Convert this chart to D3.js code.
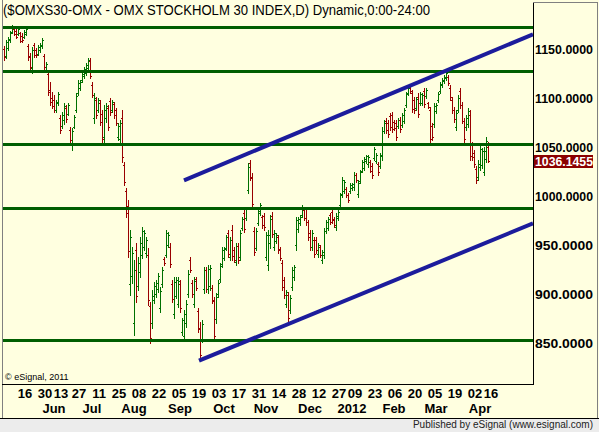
<!DOCTYPE html>
<html>
<head>
<meta charset="utf-8">
<script src="https://cdn.jsdelivr.net/npm/d3@7"></script>
<style>
  html, body { margin: 0; padding: 0; background: #fff; }
  svg { display: block; }
  text { font-family: "Liberation Sans", Arial, sans-serif; }
</style>
</head>
<body>
<div id="chart"></div>
<script>
// daily OHLC, OMXS30, 2 May 2011 .. 13 Apr 2012
const opens = [
  1150,1143,1151,1159,1167,1170,1168,1165,1166,1163,
  1162,1165,1153,1143,1131,1154,1149,1145,1149,1153,
  1143,1129,1124,1108,1100,1098,1088,1095,1080,1071,
  1078,1090,1084,1067,1052,1070,1088,1105,1110,1118,
  1122,1126,1131,1138,1113,1080,1098,1088,1095,1084,
  1060,1080,1090,1097,1088,1094,1088,1060,1058,1080,
  1032,1005,990,910,918,870,945,908,922,940,
  948,942,940,888,870,894,900,905,886,910,
  936,940,950,948,910,880,898,890,910,861,
  857,870,900,935,911,890,915,883,865,854,
  905,925,905,908,906,893,874,900,915,931,
  937,947,962,938,965,945,933,949,938,967,
  983,978,1006,1034,1018,964,947,972,983,979,
  980,938,930,952,980,948,954,958,946,932,
  914,890,899,884,907,917,950,966,972,981,
  986,987,973,962,948,955,955,941,948,935,
  940,964,967,981,984,977,968,978,991,1002,
  1005,1007,1001,1005,1008,1009,1021,1002,1015,1026,
  1029,1036,1033,1035,1031,1039,1036,1033,1031,1041,
  1066,1077,1075,1082,1083,1076,1075,1071,1078,1072,
  1077,1093,1105,1112,1105,1098,1090,1101,1095,1095,
  1107,1102,1095,1088,1071,1073,1087,1098,1107,1113,
  1117,1120,1121,1110,1098,1088,1070,1088,1107,1093,
  1077,1070,1073,1083,1052,1044,1028,1019,1030,1032,
  1025,1038,1050
];
const highs = [
  1153,1159,1162,1168,1174,1171,1171,1171,1167,1166,
  1169,1171,1155,1146,1152,1156,1151,1154,1156,1161,
  1145,1137,1127,1116,1106,1103,1098,1106,1083,1086,
  1095,1093,1095,1070,1069,1083,1105,1118,1118,1127,
  1132,1136,1141,1141,1116,1105,1101,1100,1098,1088,
  1093,1095,1093,1100,1098,1096,1090,1074,1078,1088,
  1035,1008,996,965,948,935,952,938,958,968,
  965,958,947,892,904,912,914,921,907,928,
  938,965,963,952,914,917,917,917,914,876,
  884,894,924,938,914,917,917,886,871,873,
  928,928,930,930,909,897,901,914,932,948,
  948,960,965,958,970,948,952,952,965,979,
  986,989,1034,1037,1023,968,967,988,993,981,
  983,963,965,981,984,965,962,960,948,935,
  917,904,902,899,928,930,979,979,981,991,
  988,989,976,965,965,958,958,952,950,945,
  967,975,979,983,986,979,983,986,1003,1019,
  1016,1009,1003,1013,1013,1024,1023,1016,1027,1037,
  1040,1042,1042,1037,1034,1050,1044,1035,1044,1070,
  1078,1080,1078,1085,1086,1078,1078,1080,1081,1085,
  1090,1106,1111,1114,1108,1101,1101,1105,1106,1105,
  1110,1110,1096,1091,1074,1095,1095,1106,1116,1120,
  1123,1129,1123,1113,1101,1091,1088,1103,1110,1096,
  1080,1083,1090,1088,1055,1047,1031,1037,1052,1049,
  1050,1060,1055
];
const lows = [
  1139,1141,1149,1157,1166,1164,1161,1164,1157,1157,
  1161,1164,1139,1129,1126,1142,1142,1144,1147,1151,
  1129,1127,1103,1093,1090,1086,1086,1093,1064,1069,
  1073,1076,1083,1054,1047,1069,1086,1103,1108,1116,
  1120,1123,1129,1120,1101,1074,1080,1086,1072,1052,
  1052,1076,1067,1083,1086,1080,1072,1057,1054,1035,
  1011,979,938,899,911,858,892,904,917,937,
  945,938,889,850,865,891,897,902,882,907,
  930,938,948,928,892,876,896,887,882,858,
  853,866,897,922,897,887,904,861,832,851,
  901,902,901,904,891,853,870,897,912,928,
  935,945,938,935,935,933,930,932,935,965,
  963,976,1003,1016,989,940,945,970,981,967,
  965,935,924,947,958,945,952,942,935,904,
  896,887,871,881,904,914,945,963,970,979,
  976,970,955,945,945,938,942,938,938,932,
  937,962,965,971,972,968,965,976,989,999,
  1003,999,994,1003,1006,1006,1014,999,1013,1024,
  1027,1034,1030,1024,1018,1037,1034,1021,1029,1037,
  1064,1064,1060,1067,1065,1067,1057,1069,1065,1070,
  1074,1091,1103,1105,1086,1085,1088,1081,1093,1093,
  1091,1100,1090,1054,1057,1070,1085,1096,1105,1111,
  1115,1118,1113,1098,1085,1076,1067,1086,1090,1074,
  1055,1067,1070,1037,1037,1030,1013,1016,1027,1029,
  1021,1035,1035
];
const closes = [
  1142,1157,1160,1166,1172,1165,1162,1170,1158,1159,
  1167,1170,1142,1132,1149,1144,1144,1152,1154,1159,
  1132,1135,1106,1096,1092,1088,1096,1104,1067,1083,
  1092,1079,1093,1057,1066,1081,1102,1115,1116,1125,
  1130,1134,1139,1122,1103,1100,1083,1098,1076,1058,
  1088,1092,1070,1086,1096,1083,1075,1071,1074,1040,
  1014,983,944,958,942,925,898,932,952,964,
  962,955,894,855,898,908,911,918,903,925,
  932,962,960,931,895,912,914,913,886,873,
  880,890,920,925,900,913,906,864,838,869,
  924,905,926,927,894,857,897,911,929,945,
  946,958,941,955,939,935,949,935,962,977,
  966,987,1030,1019,992,943,964,985,991,970,
  968,960,960,977,961,962,960,945,937,907,
  899,902,875,896,925,928,975,977,979,989,
  978,973,958,948,962,941,945,950,940,943,
  964,973,977,973,975,970,980,984,1001,1016,
  1014,1001,996,1011,1012,1021,1016,1013,1025,1035,
  1038,1041,1040,1026,1021,1048,1042,1024,1042,1066,
  1075,1067,1063,1070,1068,1069,1060,1078,1068,1083,
  1088,1104,1110,1107,1089,1088,1099,1084,1104,1103,
  1094,1108,1091,1058,1060,1092,1093,1104,1114,1118,
  1121,1126,1115,1101,1088,1079,1085,1100,1093,1077,
  1058,1080,1087,1041,1040,1033,1016,1033,1048,1046,
  1046,1056,1036.1455
];
const lastPrice = 1036.1455;

// bar index of each date tick (16 May 2011 = 10 ... 16 Apr 2012 = 243)
const dayLabels = ["16","30","13","27","11","25","08","22","05","19","03","17","31",
                   "14","28","12","27","09","23","06","20","05","19","02","16"];
const dayIdx = [10,20,28,37,47,57,67,77,87,97,107,117,127,137,147,157,167,175,185,195,205,215,225,235,243];
const monthLabels = ["Jun","Jul","Aug","Sep","Oct","Nov","Dec","2012","Feb","Mar","Apr"];
const monthIdx = [22,41,62,85,107,128,150,171,192,213,235];

const priceTicks = [850, 900, 950, 1000, 1050, 1100, 1150];
const levels = [1172, 1128, 1053, 988, 853];
const trendUpper = [[89.75, 1016], [264.25, 1165]];
const trendLower = [[97.25, 832], [264.25, 972]];

const W = 599, H = 432;
const plot = {left: 2, top: 2, right: 533, bottom: 384};

const svg = d3.select("#chart").append("svg")
  .attr("width", W)
  .attr("height", H);

svg.append("rect").attr("width", W).attr("height", H).attr("fill", "#ffffe0");

const x = d3.scaleLinear().domain([0, 243]).range([4.5, 490.5]);
const y = d3.scaleLinear().domain([850, 1150]).range([343, 49]);

svg.append("clipPath").attr("id", "plotclip")
  .append("rect")
  .attr("x", plot.left).attr("y", plot.top)
  .attr("width", plot.right - plot.left).attr("height", plot.bottom - plot.top);

const bars = svg.append("g").attr("shape-rendering", "crispEdges");
const data = closes.map((c, i) => ({i: i, o: opens[i], h: highs[i], l: lows[i], c: c}));
const up = "#007000", down = "#990000";

bars.selectAll("g.bar")
  .data(data)
  .enter()
  .append("g")
  .attr("class", "bar")
  .attr("stroke", d => d.c >= d.o ? up : down)
  .each(function(d) {
    const g = d3.select(this);
    const cx = x(d.i);
    g.append("line")
      .attr("x1", cx).attr("x2", cx)
      .attr("y1", Math.round(y(d.h))).attr("y2", Math.round(y(d.l)) + 1);
    const yo = Math.round(y(d.o)) + 0.5, yc = Math.round(y(d.c)) + 0.5;
    g.append("line").attr("x1", cx - 1.5).attr("x2", cx).attr("y1", yo).attr("y2", yo);
    g.append("line").attr("x1", cx).attr("x2", cx + 1.5).attr("y1", yc).attr("y2", yc);
  });

// horizontal support / resistance levels
svg.append("g")
  .selectAll("line")
  .data(levels)
  .enter()
  .append("line")
  .attr("x1", plot.left).attr("x2", plot.right)
  .attr("y1", d => Math.round(y(d)) + 0.5).attr("y2", d => Math.round(y(d)) + 0.5)
  .attr("stroke", "#005e00")
  .attr("stroke-width", 3);

// trend channel
const trendLine = d3.line().x(d => x(d[0])).y(d => y(d[1]));
svg.append("g")
  .attr("clip-path", "url(#plotclip)")
  .selectAll("path")
  .data([trendUpper, trendLower])
  .enter()
  .append("path")
  .attr("d", trendLine)
  .attr("fill", "none")
  .attr("stroke", "#1c1c9c")
  .attr("stroke-width", 4);

// frame
const frame = svg.append("g").attr("shape-rendering", "crispEdges").attr("fill", "none");
frame.append("line").attr("x1", 2.5).attr("x2", 2.5).attr("y1", 0).attr("y2", 418).attr("stroke", "#808080");
frame.append("line").attr("x1", 533.5).attr("x2", 533.5).attr("y1", 2).attr("y2", 385).attr("stroke", "#000");
frame.append("line").attr("x1", 2).attr("x2", 534).attr("y1", 384.5).attr("y2", 384.5).attr("stroke", "#000");
frame.append("line").attr("x1", 533).attr("x2", 598).attr("y1", 2.5).attr("y2", 2.5).attr("stroke", "#808080");
frame.append("line").attr("x1", 597.5).attr("x2", 597.5).attr("y1", 2).attr("y2", 418).attr("stroke", "#808080");

// price axis
const yAxis = d3.axisRight(y)
  .tickValues(priceTicks)
  .tickSize(0)
  .tickPadding(2)
  .tickFormat(d3.format(".4f"));

svg.append("g")
  .attr("transform", "translate(" + plot.right + ",0)")
  .call(yAxis)
  .call(g => g.select(".domain").remove())
  .selectAll("text")
  .attr("fill", "#000")
  .attr("dy", "0.34em")
  .style("font-family", "'Liberation Sans', Arial, sans-serif")
  .style("font-size", "13px")
  .style("font-weight", "bold")
  .attr("textLength", 58)
  .attr("lengthAdjust", "spacingAndGlyphs");

// last price marker
svg.append("rect")
  .attr("x", 534).attr("y", Math.round(y(lastPrice)) - 6)
  .attr("width", 59).attr("height", 13)
  .attr("fill", "#8b0000");
svg.append("text")
  .attr("x", 535).attr("y", y(lastPrice))
  .attr("dy", "0.38em")
  .attr("fill", "#fff")
  .style("font-size", "13px")
  .style("font-weight", "bold")
  .attr("textLength", 58)
  .attr("lengthAdjust", "spacingAndGlyphs")
  .text(d3.format(".4f")(lastPrice));

// date axis
const xAxis = d3.axisBottom(x)
  .tickValues(dayIdx)
  .tickSize(0)
  .tickPadding(5)
  .tickFormat((d, i) => dayLabels[i]);

svg.append("g")
  .attr("transform", "translate(0," + plot.bottom + ")")
  .call(xAxis)
  .call(g => g.select(".domain").remove())
  .selectAll("text")
  .attr("fill", "#000")
  .style("font-family", "'Liberation Sans', Arial, sans-serif")
  .style("font-size", "13px")
  .style("font-weight", "bold");

const mAxis = d3.axisBottom(x)
  .tickValues(monthIdx.map(d => d + 2.5))
  .tickSize(0)
  .tickPadding(20)
  .tickFormat((d, i) => monthLabels[i]);

svg.append("g")
  .attr("transform", "translate(0," + plot.bottom + ")")
  .call(mAxis)
  .call(g => g.select(".domain").remove())
  .selectAll("text")
  .attr("fill", "#000")
  .style("font-family", "'Liberation Sans', Arial, sans-serif")
  .style("font-size", "13px")
  .style("font-weight", "bold");

// title
svg.append("text")
  .attr("x", 3).attr("y", 15)
  .style("font-size", "14px")
  .attr("textLength", 427)
  .attr("lengthAdjust", "spacingAndGlyphs")
  .text("($OMXS30-OMX - OMX STOCKHOLM 30 INDEX,D) Dynamic,0:00-24:00");

svg.append("text")
  .attr("x", 5).attr("y", 380)
  .style("font-size", "9px")
  .text("\u00a9 eSignal, 2011");

// status strip
svg.append("rect").attr("x", 0).attr("y", 419).attr("width", W).attr("height", 13).attr("fill", "#ececec");
svg.append("line").attr("x1", 0).attr("x2", W).attr("y1", 418.5).attr("y2", 418.5)
  .attr("stroke", "#000").attr("shape-rendering", "crispEdges");
svg.append("text")
  .attr("x", 593).attr("y", 428)
  .attr("text-anchor", "end")
  .style("font-size", "10px")
  .attr("fill", "#222")
  .text("Published by eSignal (www.esignal.com)");
</script>
</body>
</html>
